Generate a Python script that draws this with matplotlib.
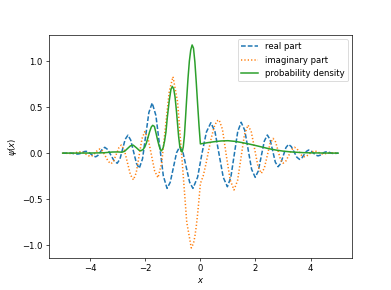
import numpy as np
import matplotlib
matplotlib.use("Agg")
import matplotlib.pyplot as plt

# values, (x, value)
real_pts = [
    (-5.0, 0.0), (-4.75, 0.0), (-4.675, -0.001), (-4.6, -0.005), (-4.525, -0.009),
    (-4.45, -0.01), (-4.375, -0.006), (-4.3, 0.005), (-4.225, 0.016), (-4.15, 0.02),
    (-4.06, 0.011), (-3.975, -0.01), (-3.89, -0.031), (-3.8, -0.04), (-3.72, -0.025),
    (-3.635, 0.012), (-3.55, 0.048), (-3.47, 0.063), (-3.36, 0.038), (-3.245, -0.024),
    (-3.13, -0.085), (-3.02, -0.11), (-2.92, -0.065), (-2.825, 0.043), (-2.73, 0.15),
    (-2.63, 0.195), (-2.53, 0.142), (-2.425, 0.015), (-2.32, -0.112), (-2.22, -0.165),
    (-2.10, -0.061), (-1.985, 0.19), (-1.87, 0.441), (-1.75, 0.545), (-1.615, 0.409),
    (-1.48, 0.081), (-1.345, -0.248), (-1.21, -0.383), (-1.095, -0.317), (-0.98, -0.157),
    (-0.865, 0.004), (-0.75, 0.07), (-0.63, 0.004), (-0.51, -0.157), (-0.39, -0.317),
    (-0.27, -0.383), (-0.10, -0.26), (0.06, 0.0), (0.22, 0.23), (0.38, 0.33),
    (0.53, 0.233), (0.68, -0.015), (0.83, -0.263), (0.98, -0.365), (1.105, -0.263),
    (1.23, -0.015), (1.355, 0.233), (1.48, 0.335), (1.61, 0.248), (1.735, 0.036),
    (1.86, -0.176), (1.99, -0.263), (2.10, -0.196), (2.21, -0.033), (2.32, 0.13),
    (2.43, 0.197), (2.53, 0.147), (2.625, 0.025), (2.72, -0.098), (2.82, -0.148),
    (2.915, -0.113), (3.01, -0.027), (3.105, 0.06), (3.2, 0.095), (3.3, 0.071),
    (3.4, 0.014), (3.5, -0.044), (3.6, -0.068), (3.68, -0.053), (3.765, -0.017),
    (3.85, 0.019), (3.93, 0.034), (4.015, 0.025), (4.1, 0.002), (4.185, -0.021),
    (4.27, -0.03), (4.345, -0.023), (4.42, -0.008), (4.495, 0.008), (4.57, 0.015),
    (4.64, 0.012), (4.71, 0.005), (4.78, -0.002), (4.85, -0.005), (5.0, 0.0),
]

imag_pts = [
    (-5.0, 0.0), (-4.85, -0.002), (-4.7, -0.004), (-4.61, -0.001), (-4.525, 0.0055),
    (-4.44, 0.012), (-4.35, 0.015), (-4.255, 0.008), (-4.16, -0.01), (-4.065, -0.028),
    (-3.97, -0.035), (-3.89, -0.023), (-3.81, 0.005), (-3.73, 0.033), (-3.65, 0.045),
    (-3.55, 0.022), (-3.445, -0.035), (-3.34, -0.092), (-3.24, -0.115), (-3.15, -0.085),
    (-3.055, -0.014), (-2.96, 0.058), (-2.87, 0.088), (-2.76, 0.033), (-2.65, -0.101),
    (-2.54, -0.235), (-2.43, -0.29), (-2.33, -0.214), (-2.225, -0.029), (-2.12, 0.157),
    (-2.02, 0.233), (-1.90, 0.16), (-1.78, -0.017), (-1.66, -0.194), (-1.54, -0.267),
    (-1.405, -0.107), (-1.27, 0.28), (-1.13, 0.67), (-0.995, 0.83), (-0.83, 0.56),
    (-0.66, -0.095), (-0.495, -0.75), (-0.33, -1.03), (-0.25, -0.98), (-0.2, -0.905),
    (-0.15, -0.797), (-0.1, -0.66), (-0.05, -0.5), (0.0, -0.33), (0.1, -0.25),
    (0.2, -0.12), (0.3, 0.03), (0.4, 0.17), (0.5, 0.285), (0.6, 0.35),
    (0.68, 0.36), (0.80, 0.26), (0.94, -0.024), (1.08, -0.29), (1.22, -0.40),
    (1.35, -0.297), (1.475, -0.048), (1.60, 0.202), (1.73, 0.305), (1.85, 0.228),
    (1.97, 0.043), (2.09, -0.143), (2.21, -0.22), (2.32, -0.165), (2.425, -0.03),
    (2.53, 0.105), (2.64, 0.16), (2.73, 0.121), (2.82, 0.025), (2.91, -0.071),
    (3.0, -0.11), (3.105, -0.085), (3.21, -0.024), (3.315, 0.038), (3.42, 0.063),
    (3.505, 0.048), (3.59, 0.012), (3.675, -0.025), (3.76, -0.04), (3.86, -0.031),
    (3.955, -0.009), (4.05, 0.014), (4.15, 0.023), (4.225, 0.018), (4.3, 0.007),
    (4.375, -0.005), (4.45, -0.01), (4.6, -0.003), (4.75, 0.004), (5.0, 0.0),
]

density_pts = [
    (-5.0, 0.0), (-4.0, 0.001), (-3.5, 0.004), (-3.2, 0.012), (-3.0, 0.013),
    (-2.85, 0.01), (-2.75, 0.02), (-2.63, 0.054), (-2.54, 0.079), (-2.44, 0.087),
    (-2.33, 0.06), (-2.22, 0.03), (-2.15, 0.027), (-2.08, 0.04), (-2.02, 0.065),
    (-1.96, 0.11), (-1.90, 0.172), (-1.84, 0.235), (-1.78, 0.285), (-1.73, 0.302),
    (-1.67, 0.29), (-1.62, 0.23), (-1.56, 0.15), (-1.50, 0.08), (-1.45, 0.035),
    (-1.41, 0.025), (-1.35, 0.06), (-1.30, 0.13), (-1.25, 0.23), (-1.20, 0.39),
    (-1.13, 0.57), (-1.07, 0.69), (-1.02, 0.725), (-0.97, 0.70), (-0.92, 0.61),
    (-0.87, 0.46), (-0.83, 0.32), (-0.79, 0.18), (-0.75, 0.08), (-0.70, 0.02),
    (-0.66, 0.012), (-0.62, 0.07), (-0.58, 0.19), (-0.54, 0.38), (-0.50, 0.58),
    (-0.45, 0.81), (-0.40, 1.0), (-0.35, 1.12), (-0.30, 1.175), (-0.25, 1.14),
    (-0.20, 0.99), (-0.15, 0.77), (-0.10, 0.53), (-0.05, 0.30), (0.0, 0.10),
    (0.25, 0.113), (0.5, 0.124), (0.75, 0.132), (1.0, 0.135), (1.25, 0.128),
    (1.5, 0.115), (1.75, 0.10), (2.0, 0.083), (2.25, 0.065), (2.5, 0.047),
    (2.75, 0.033), (3.0, 0.022), (3.25, 0.014), (3.5, 0.009), (3.75, 0.005),
    (4.0, 0.003), (4.5, 0.001), (5.0, 0.0),
]

real_pts = np.array(real_pts)
imag_pts = np.array(imag_pts)
density_pts = np.array(density_pts)

fig, ax = plt.subplots(figsize=(391 / 61, 290 / 61), dpi=61)

lw = 1.8
ax.plot(real_pts[:, 0], real_pts[:, 1], lw=lw, dashes=(3.1, 1.35), label="real part")
ax.plot(imag_pts[:, 0], imag_pts[:, 1], lw=lw, dashes=(0.83, 1.375), label="imaginary part")
ax.plot(density_pts[:, 0], density_pts[:, 1], "-", lw=lw, label="probability density")

ax.set_xlabel("$x$")
ax.set_ylabel(r"$\psi(x)$")
ax.legend(loc="upper right")

fig.savefig("out.png", dpi=61)
